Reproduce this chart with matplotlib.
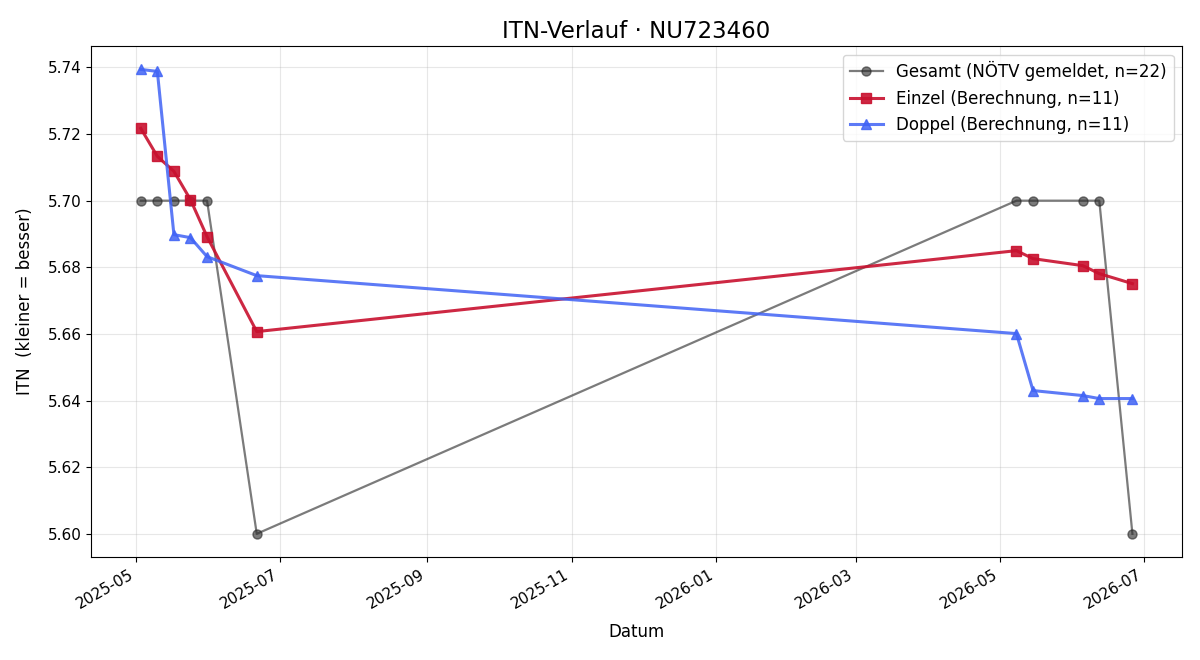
import matplotlib
matplotlib.use("Agg")
import matplotlib.pyplot as plt
import matplotlib.dates as mdates
import pandas as pd

dates = pd.to_datetime([
    "2025-05-03", "2025-05-10", "2025-05-17", "2025-05-24", "2025-05-31",
    "2025-06-21", "2026-05-08", "2026-05-15", "2026-06-05", "2026-06-12",
    "2026-06-26",
])
gesamt = [5.70, 5.70, 5.70, 5.70, 5.70, 5.60, 5.70, 5.70, 5.70, 5.70, 5.60]
einzel = [5.7217, 5.7133, 5.7088, 5.7003, 5.6892, 5.6607,
          5.6850, 5.6826, 5.6805, 5.6781, 5.6751]
doppel = [5.7394, 5.7388, 5.6898, 5.6889, 5.6832, 5.6775,
          5.6601, 5.6430, 5.6415, 5.6406, 5.6406]

fig, ax = plt.subplots(figsize=(12, 6.6), dpi=100)
ax.plot(dates, gesamt, "-o", color="#2b2b2b", alpha=0.62, lw=1.6, ms=6.5,
        label="Gesamt (NÖTV gemeldet, n=22)")
ax.plot(dates, einzel, "-s", color="#c8102e", alpha=0.9, lw=2.2, ms=7,
        label="Einzel (Berechnung, n=11)")
ax.plot(dates, doppel, "-^", color="#4063f5", alpha=0.85, lw=2.2, ms=7,
        label="Doppel (Berechnung, n=11)")

ax.set_title("ITN-Verlauf · NU723460", fontsize=16.5)
ax.set_xlabel("Datum", fontsize=12, labelpad=8)
ax.set_ylabel("ITN  (kleiner = besser)", fontsize=12, labelpad=10)
ax.grid(True, alpha=0.3)
ax.xaxis.set_major_locator(mdates.MonthLocator(interval=2))
ax.xaxis.set_major_formatter(mdates.DateFormatter("%Y-%m"))
ax.tick_params(labelsize=11)
ax.legend(loc="upper right", fontsize=12)
fig.autofmt_xdate()
fig.subplots_adjust(left=0.076, right=0.985, top=0.930, bottom=0.156)
fig.savefig("out.png")
